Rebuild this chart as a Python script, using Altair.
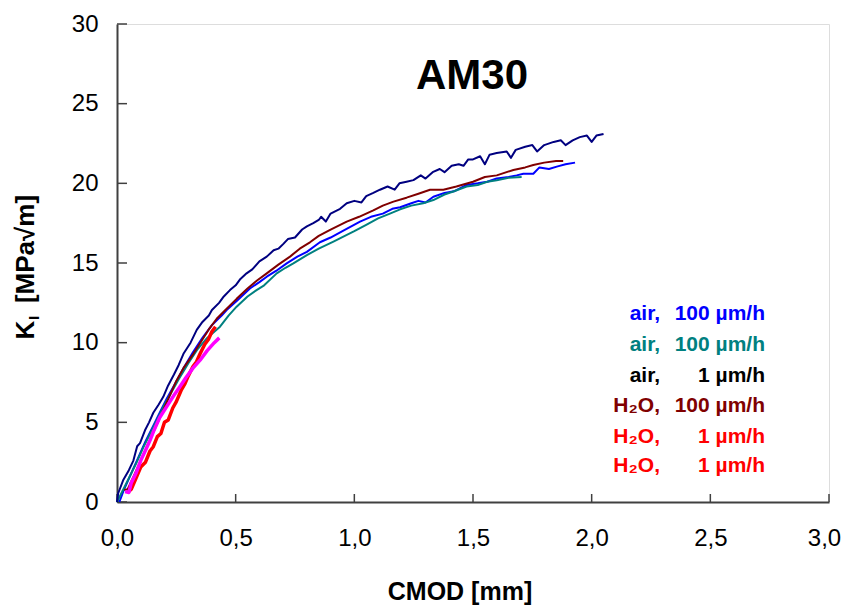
import altair as alt
import pandas as pd

# ---------------- data ----------------
air100a_x = [0.01, 0.03, 0.06, 0.09, 0.12, 0.15, 0.18, 0.21, 0.24, 0.28, 0.32, 0.36, 0.40, 0.441, 0.462, 0.51, 0.56, 0.60, 0.631, 0.67, 0.715, 0.76, 0.80, 0.855, 0.90, 0.95, 1.024, 1.07, 1.12, 1.16, 1.193, 1.24, 1.27, 1.30, 1.333, 1.38, 1.42, 1.473, 1.52, 1.56, 1.60, 1.65, 1.684, 1.712, 1.754, 1.78, 1.82, 1.853, 1.89, 1.93]
air100a_k = [0.0, 0.8, 1.8, 2.8, 3.8, 4.7, 5.6, 6.5, 7.3, 8.4, 9.4, 10.3, 11.1, 11.7, 12.05, 12.7, 13.4, 13.8, 14.14, 14.5, 14.98, 15.4, 15.7, 16.3, 16.6, 17.0, 17.6, 17.9, 18.1, 18.4, 18.5, 18.75, 18.9, 18.8, 19.16, 19.4, 19.5, 19.9, 20.0, 20.1, 20.3, 20.4, 20.5, 20.6, 20.6, 21.0, 20.9, 21.05, 21.2, 21.3]

air100b_x = [0.0, 0.02, 0.05, 0.08, 0.11, 0.14, 0.17, 0.20, 0.23, 0.26, 0.30, 0.34, 0.38, 0.434, 0.47, 0.504, 0.55, 0.588, 0.62, 0.673, 0.71, 0.743, 0.80, 0.85, 0.912, 0.96, 1.00, 1.05, 1.10, 1.15, 1.193, 1.24, 1.29, 1.333, 1.38, 1.42, 1.473, 1.52, 1.56, 1.60, 1.65, 1.705]
air100b_k = [0.0, 0.6, 1.5, 2.4, 3.4, 4.3, 5.2, 6.1, 6.9, 7.7, 8.7, 9.6, 10.3, 11.0, 11.7, 12.26, 12.9, 13.3, 13.6, 14.35, 14.7, 14.98, 15.5, 15.9, 16.34, 16.7, 17.0, 17.4, 17.8, 18.1, 18.37, 18.6, 18.75, 18.95, 19.3, 19.5, 19.8, 19.9, 20.1, 20.2, 20.35, 20.4]

air1_x = [0.0, 0.005, 0.027, 0.05, 0.069, 0.085, 0.097, 0.118, 0.135, 0.153, 0.175, 0.195, 0.215, 0.24, 0.26, 0.28, 0.31, 0.336, 0.36, 0.387, 0.40, 0.43, 0.45, 0.476, 0.50, 0.52, 0.546, 0.57, 0.60, 0.631, 0.66, 0.68, 0.701, 0.72, 0.75, 0.78, 0.80, 0.827, 0.85, 0.86, 0.88, 0.90, 0.94, 0.968, 1.00, 1.03, 1.05, 1.08, 1.108, 1.14, 1.17, 1.19, 1.22, 1.249, 1.28, 1.30, 1.33, 1.36, 1.38, 1.41, 1.44, 1.46, 1.48, 1.50, 1.53, 1.55, 1.57, 1.60, 1.642, 1.66, 1.68, 1.72, 1.75, 1.77, 1.80, 1.84, 1.87, 1.89, 1.92, 1.95, 1.98, 2.00, 2.02, 2.05]
air1_k = [0.0, 0.55, 1.4, 2.0, 2.6, 3.5, 3.7, 4.5, 5.0, 5.6, 6.1, 6.6, 7.3, 8.0, 8.6, 9.3, 10.0, 10.8, 11.3, 11.7, 12.05, 12.5, 12.9, 13.3, 13.6, 14.0, 14.35, 14.6, 15.1, 15.4, 15.8, 15.9, 16.2, 16.5, 16.6, 17.1, 17.3, 17.5, 17.7, 17.9, 17.6, 18.1, 18.4, 18.75, 18.9, 18.8, 19.2, 19.4, 19.6, 19.8, 19.6, 20.0, 20.1, 20.2, 20.5, 20.3, 20.7, 20.9, 20.7, 21.1, 21.2, 21.1, 21.5, 21.5, 21.7, 21.2, 21.8, 21.9, 22.0, 21.6, 22.1, 22.3, 22.4, 22.0, 22.4, 22.6, 22.7, 22.4, 22.7, 22.9, 23.0, 22.6, 23.0, 23.1]

h2o100_x = [0.03, 0.045, 0.07, 0.10, 0.13, 0.16, 0.19, 0.22, 0.25, 0.28, 0.322, 0.36, 0.39, 0.42, 0.46, 0.504, 0.55, 0.59, 0.631, 0.68, 0.729, 0.77, 0.813, 0.85, 0.90, 0.968, 1.02, 1.08, 1.12, 1.165, 1.22, 1.27, 1.319, 1.375, 1.43, 1.50, 1.55, 1.60, 1.67, 1.72, 1.754, 1.80, 1.85, 1.88]
h2o100_k = [0.75, 0.8, 1.6, 2.6, 3.6, 4.6, 5.6, 6.6, 7.6, 8.4, 9.3, 10.2, 10.9, 11.5, 12.1, 12.75, 13.4, 13.9, 14.35, 14.9, 15.4, 15.9, 16.3, 16.7, 17.1, 17.6, 17.9, 18.3, 18.6, 18.85, 19.1, 19.35, 19.6, 19.6, 19.8, 20.1, 20.4, 20.5, 20.84, 21.0, 21.15, 21.3, 21.4, 21.4]

h2o1a_x = [0.045, 0.06, 0.083, 0.10, 0.12, 0.139, 0.153, 0.17, 0.185, 0.20, 0.216, 0.235, 0.25, 0.27, 0.287, 0.30, 0.32, 0.335, 0.35, 0.37, 0.385, 0.40, 0.415]
h2o1a_k = [0.6, 0.8, 1.6, 2.2, 2.5, 3.2, 3.47, 4.1, 4.3, 5.0, 5.15, 5.9, 6.3, 7.0, 7.45, 7.9, 8.5, 8.8, 9.3, 9.9, 10.2, 10.7, 11.0]

h2o1b_x = [0.034, 0.05, 0.06, 0.08, 0.10, 0.125, 0.14, 0.153, 0.18, 0.21, 0.24, 0.265, 0.29, 0.32, 0.35, 0.38, 0.41, 0.431]
h2o1b_k = [0.65, 0.6, 1.2, 1.8, 2.6, 3.4, 3.9, 4.4, 5.3, 6.0, 6.7, 7.24, 7.8, 8.4, 8.9, 9.5, 10.0, 10.3]

legend_left = ["air,", "air,", "air,", "H\u2082O,", "H\u2082O,", "H\u2082O,"]
legend_right = ["100 \u00b5m/h", "100 \u00b5m/h", "1 \u00b5m/h", "100 \u00b5m/h", "1 \u00b5m/h", "1 \u00b5m/h"]

x_ticks = [0.0, 0.5, 1.0, 1.5, 2.0, 2.5, 3.0]
y_ticks = [0, 5, 10, 15, 20, 25, 30]

chart_title = "AM30"
x_title = "CMOD [mm]"

# ---------------- styling ----------------
W, H = 712, 478
FONT = "Liberation Sans"
AXIS_COLOR = "#404040"

series = [
    ("air 100 a", air100a_x, air100a_k, "#0000FF", 2),
    ("air 100 b", air100b_x, air100b_k, "#008080", 2),
    ("air 1", air1_x, air1_k, "#000080", 2),
    ("H2O 100", h2o100_x, h2o100_k, "#800000", 2),
    ("H2O 1 a", h2o1a_x, h2o1a_k, "#FF0000", 3.5),
    ("H2O 1 b", h2o1b_x, h2o1b_k, "#FF00FF", 3.5),
]
legend_colors = ["#0000FF", "#008080", "#000000", "#800000", "#FF0000", "#FF0000"]
legend_rows_y = [290, 321, 352, 382, 413, 442]

xscale = alt.Scale(domain=[0, 3], nice=False, zero=False)
yscale = alt.Scale(domain=[0, 30], nice=False, zero=False)

x_axis = alt.Axis(values=x_ticks, ticks=False, tickSize=0, grid=False, title=None,
                  domainColor=AXIS_COLOR, domainWidth=2, labelFlush=False, labelOverlap=False,
                  labelExpr="replace(format(datum.value, '.1f'), '.', ',')",
                  labelOffset={"condition": {"test": "datum.value >= 3", "value": -5}, "value": 0},
                  labelFont=FONT, labelFontSize=24, labelColor="black", labelPadding=24)
y_axis = alt.Axis(values=y_ticks, ticks=False, tickSize=0, grid=False, title=None,
                  domainColor=AXIS_COLOR, domainWidth=2, format="d", labelFlush=False, labelOverlap=False,
                  labelFont=FONT, labelFontSize=24, labelColor="black", labelPadding=19)

layers = []

xt = alt.Chart(pd.DataFrame({"x": x_ticks})).mark_rule(color=AXIS_COLOR, strokeWidth=1.5).encode(
    x=alt.X("x:Q", scale=xscale, axis=x_axis),
    y=alt.value(H), y2=alt.value(H - 8),
)
layers.append(xt)
yt = alt.Chart(pd.DataFrame({"y": y_ticks})).mark_rule(color=AXIS_COLOR, strokeWidth=1.5).encode(
    y=alt.Y("y:Q", scale=yscale, axis=y_axis),
    x=alt.value(0), x2=alt.value(10),
)
layers.append(yt)

for name, xs, ks, col, sw in series:
    df = pd.DataFrame({"CMOD": xs, "K": ks, "i": range(len(xs))})
    layers.append(
        alt.Chart(df).mark_line(color=col, strokeWidth=sw, strokeJoin="round").encode(
            x=alt.X("CMOD:Q", scale=xscale),
            y=alt.Y("K:Q", scale=yscale),
            order="i:Q",
        )
    )

layers.append(
    alt.Chart(pd.DataFrame({"t": [chart_title]})).mark_text(
        font=FONT, fontSize=42, fontWeight="bold", color="black", align="center", baseline="middle"
    ).encode(text="t:N", x=alt.value(355), y=alt.value(52))
)

for i in range(len(legend_left)):
    df = pd.DataFrame({"l": [legend_left[i]], "r": [legend_right[i]]})
    layers.append(
        alt.Chart(df).mark_text(font=FONT, fontSize=21, fontWeight="bold", color=legend_colors[i],
                                align="right", baseline="middle").encode(
            text="l:N", x=alt.value(543), y=alt.value(legend_rows_y[i]))
    )
    layers.append(
        alt.Chart(df).mark_text(font=FONT, fontSize=21, fontWeight="bold", color=legend_colors[i],
                                align="right", baseline="middle").encode(
            text="r:N", x=alt.value(648), y=alt.value(legend_rows_y[i]))
    )

layers.append(
    alt.Chart(pd.DataFrame({"t": [x_title]})).mark_text(
        font=FONT, fontSize=25, fontWeight="bold", color="black", align="center", baseline="middle"
    ).encode(text="t:N", x=alt.value(343), y=alt.value(568))
)
layers.append(
    alt.Chart(pd.DataFrame({"t": ["K"]})).mark_text(
        font=FONT, fontSize=26, fontWeight="bold", color="black", align="center", baseline="middle", angle=270
    ).encode(text="t:N", x=alt.value(-91), y=alt.value(306))
)
layers.append(
    alt.Chart(pd.DataFrame({"t": ["I"]})).mark_text(
        font=FONT, fontSize=15, fontWeight="bold", color="black", align="center", baseline="middle", angle=270
    ).encode(text="t:N", x=alt.value(-83), y=alt.value(294))
)
layers.append(
    alt.Chart(pd.DataFrame({"t": ["[MPa\u221am]"]})).mark_text(
        font=FONT, fontSize=26, fontWeight="bold", color="black", align="center", baseline="middle", angle=270
    ).encode(text="t:N", x=alt.value(-91), y=alt.value(225))
)

chart = alt.layer(*layers).properties(
    width=W, height=H,
    autosize=alt.AutoSizeParams(type="none"),
    padding={"left": 109, "top": 16, "right": 14, "bottom": 104},
).configure_view(stroke="#A0A0A0", strokeWidth=2).configure(background="white")

chart.save("out.html", embed_options={"renderer": "svg", "actions": False})
